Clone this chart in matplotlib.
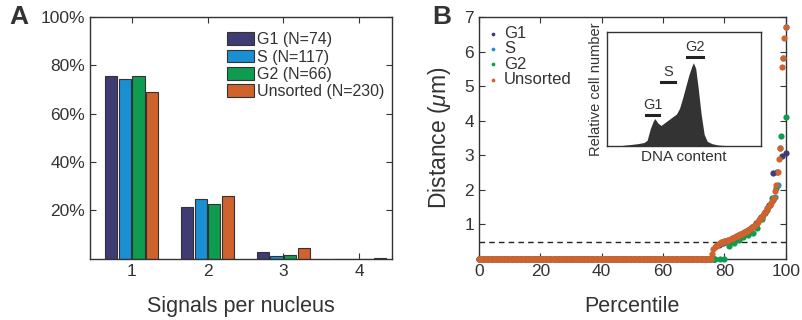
import matplotlib
matplotlib.use("Agg")
import matplotlib.pyplot as plt
import numpy as np
from matplotlib.ticker import FuncFormatter

plt.rcParams['font.family'] = ['Liberation Sans', 'DejaVu Sans']
plt.rcParams['mathtext.fontset'] = 'custom'
plt.rcParams['mathtext.rm'] = 'Liberation Sans'
plt.rcParams['mathtext.it'] = 'Liberation Sans:italic'
plt.rcParams['text.color'] = '#333333'
plt.rcParams['axes.labelcolor'] = '#333333'
plt.rcParams['xtick.color'] = '#333333'
plt.rcParams['ytick.color'] = '#333333'

# ---- panel A data ----
signals = [1, 2, 3, 4]
groups = ["G1 (N=74)", "S (N=117)", "G2 (N=66)", "Unsorted (N=230)"]
g1_pct = [75.5, 21.6, 2.8, 0.0]
s_pct = [74.2, 24.7, 1.0, 0.0]
g2_pct = [75.5, 22.7, 1.5, 0.0]
unsorted_pct = [68.8, 26.0, 4.4, 0.4]
colors = ["#3f3b73", "#1a8fd2", "#0f9b50", "#d0622d"]

# ---- panel B data: sorted nonzero distances (um), the rest are zeros ----
n_g1, n_s, n_g2, n_uns = 74, 117, 66, 230
g1_nonzero = [0.40, 0.45, 0.48, 0.52, 0.58, 0.64, 0.72, 0.84, 0.92, 1.05,
              1.20, 1.35, 1.55, 2.49, 2.52, 2.97, 3.07]
s_nonzero = [0.39, 0.445, 0.49, 0.51, 0.535, 0.56, 0.60, 0.64, 0.68, 0.715,
             0.76, 0.80, 0.84, 0.90, 0.965, 1.03, 1.13, 1.22, 1.34, 1.46,
             1.56, 1.69, 1.80, 2.15, 3.20, 5.80, 6.70]
g2_nonzero = [0.37, 0.45, 0.55, 0.62, 0.68, 0.75, 0.88, 1.15, 1.40, 1.75,
              2.05, 3.55, 4.10]
uns_nonzero = [0.13, 0.30, 0.34, 0.37, 0.40, 0.43, 0.46, 0.48, 0.50, 0.51,
               0.52, 0.53, 0.54, 0.55, 0.57, 0.59, 0.61, 0.63, 0.65, 0.67,
               0.69, 0.71, 0.73, 0.75, 0.77, 0.79, 0.81, 0.83, 0.86, 0.89,
               0.92, 0.95, 0.98, 1.02, 1.07, 1.12, 1.17, 1.22, 1.28, 1.33,
               1.39, 1.44, 1.50, 1.56, 1.61, 1.68, 1.75, 1.95, 2.15, 2.50,
               2.90, 3.20, 5.55, 5.80, 6.40, 6.70]
labels_b = ["G1", "S", "G2", "Unsorted"]

# ---- inset: DNA content histogram outline ----
dna_x = [0.05, 0.09, 0.15, 0.20, 0.24, 0.26, 0.28, 0.30, 0.31, 0.33, 0.35,
         0.37, 0.40, 0.43, 0.45, 0.47, 0.49, 0.51, 0.53, 0.55, 0.56, 0.575,
         0.59, 0.61, 0.63, 0.65, 0.68, 0.72, 0.78, 0.82]
dna_y = [0.0, 0.003, 0.012, 0.02, 0.03, 0.05, 0.15, 0.22, 0.24, 0.20, 0.18,
         0.20, 0.23, 0.26, 0.28, 0.33, 0.42, 0.52, 0.62, 0.70, 0.73, 0.68,
         0.52, 0.28, 0.10, 0.04, 0.02, 0.008, 0.002, 0.0]
gate_names = ["G1", "S", "G2"]
gate_lo = [0.25, 0.35, 0.52]
gate_hi = [0.34, 0.44, 0.62]
gate_level = [0.27, 0.56, 0.78]

fig = plt.figure(figsize=(8.03, 3.2), dpi=100)


def style_axes(ax):
    for sp in ax.spines.values():
        sp.set_color('#333333')
        sp.set_linewidth(1.0)
    ax.tick_params(direction='in', top=True, right=True, length=4,
                   labelsize=12.5, width=0.8)


# ---- panel A ----
axa = fig.add_axes([0.112, 0.191, 0.376, 0.756])
x = np.array(signals, dtype=float)
width = 0.16
offsets = [-0.27, -0.09, 0.09, 0.27]
for vals, off, c, lab in zip([g1_pct, s_pct, g2_pct, unsorted_pct], offsets,
                             colors, groups):
    axa.bar(x + off, vals, width, color=c, edgecolor='#333333',
            linewidth=0.8, label=lab)
axa.set_xlim(0.45, 4.43)
axa.set_ylim(0, 100)
axa.set_xticks(signals)
axa.set_yticks([20, 40, 60, 80, 100])
axa.yaxis.set_major_formatter(FuncFormatter(lambda v, p: f"{v:.0f}%"))
axa.set_xlabel("Signals per nucleus", fontsize=15.5, labelpad=12.5)
style_axes(axa)
axa.legend(loc='upper right', bbox_to_anchor=(1.0, 0.97), frameon=False,
           fontsize=11.5, handlelength=1.7, handleheight=0.85,
           handletextpad=0.15, labelspacing=0.15, borderaxespad=0.1)
fig.text(0.012, 0.925, "A", fontsize=19, fontweight='bold', color='#333333')

# ---- panel B ----
axb = fig.add_axes([0.5965, 0.191, 0.382, 0.756])
zorders = [4, 3, 5, 6]
for nz, n, c, lab, zo in zip([g1_nonzero, s_nonzero, g2_nonzero, uns_nonzero],
                             [n_g1, n_s, n_g2, n_uns], colors, labels_b,
                             zorders):
    dist = np.concatenate([np.zeros(n - len(nz)), nz])
    pct = np.arange(n) / (n - 1) * 100
    axb.scatter(pct, dist, s=20, color=c, linewidths=0, label=lab,
                clip_on=False, zorder=zo)
axb.axhline(0.5, color='#222222', linestyle=(0, (4, 3)), linewidth=1.0)
axb.set_xlim(0, 100)
axb.set_ylim(0, 7)
axb.set_xticks([0, 20, 40, 60, 80, 100])
axb.set_yticks([1, 2, 3, 4, 5, 6, 7])
axb.set_xlabel("Percentile", fontsize=15.5, labelpad=12.5)
axb.set_ylabel(r"Distance ($\mu$m)", fontsize=16.5, labelpad=8)
style_axes(axb)
axb.legend(loc='upper left', bbox_to_anchor=(0.0, 1.0), frameon=False,
           fontsize=12, handlelength=0.6, handletextpad=0.35,
           labelspacing=0.02, borderaxespad=0.15, markerscale=0.6)
fig.text(0.538, 0.925, "B", fontsize=19, fontweight='bold', color='#333333')

# ---- inset ----
axi = fig.add_axes([0.756, 0.544, 0.192, 0.356])
axi.fill_between(dna_x, dna_y, 0, color='#333333', linewidth=0)
for name, lo, hi, lev in zip(gate_names, gate_lo, gate_hi, gate_level):
    axi.plot([lo, hi], [lev, lev], color='#222222', linewidth=2.2)
    axi.text((lo + hi) / 2, lev + 0.03, name, ha='center', va='bottom',
             fontsize=10.5)
axi.set_xlim(0, 1)
axi.set_ylim(0, 1)
axi.set_xticks([])
axi.set_yticks([])
for sp in axi.spines.values():
    sp.set_color('#333333')
    sp.set_linewidth(1.0)
axi.set_xlabel("DNA content", fontsize=11, labelpad=3)
axi.set_ylabel("Relative cell number", fontsize=10.5, labelpad=3)

fig.savefig("out.png", dpi=100)
